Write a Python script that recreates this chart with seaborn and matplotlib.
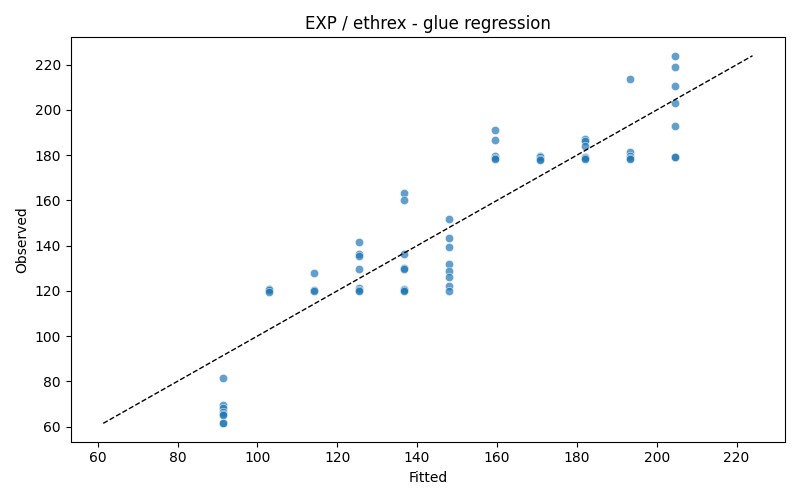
import numpy as np
import pandas as pd
import matplotlib
matplotlib.use("Agg")
import matplotlib.pyplot as plt
import seaborn as sns

# fitted levels (one per group) and observed values per group
fitted_levels = [91.5, 102.8, 114.1, 125.4, 136.8, 148.1, 159.4, 170.7, 182.0, 193.3, 204.6]
observed_groups = [
    [81.5, 69.7, 68.0, 66.5, 65.5, 65.0, 61.6, 61.4],
    [121.0, 120.2, 119.6],
    [128.0, 120.2, 119.8],
    [141.6, 136.5, 135.3, 129.7, 121.3, 120.5, 119.8],
    [163.3, 160.0, 136.5, 130.3, 129.8, 121.0, 120.5, 119.8],
    [151.8, 143.4, 139.4, 132.0, 129.0, 126.2, 122.0, 120.1],
    [191.3, 186.9, 179.5, 178.6, 178.3],
    [179.5, 179.0, 178.5, 178.0],
    [187.3, 186.2, 183.9, 179.0, 178.6, 178.3],
    [213.7, 181.2, 179.5, 178.8, 178.3],
    [224.0, 219.2, 210.7, 203.1, 193.0, 179.4, 179.0],
]

fitted = []
observed = []
for f, obs in zip(fitted_levels, observed_groups):
    for o in obs:
        fitted.append(f)
        observed.append(o)

df = pd.DataFrame({"Fitted": fitted, "Observed": observed})

fig, ax = plt.subplots(figsize=(8, 5), dpi=100)
sns.scatterplot(data=df, x="Fitted", y="Observed", alpha=0.7, ax=ax)

lo = min(df["Fitted"].min(), df["Observed"].min())
hi = max(df["Fitted"].max(), df["Observed"].max())
ax.plot([lo, hi], [lo, hi], "k--", linewidth=1)

ax.set_title("EXP / ethrex - glue regression")
ax.set_xlabel("Fitted")
ax.set_ylabel("Observed")
plt.tight_layout()
plt.savefig("out.png")
